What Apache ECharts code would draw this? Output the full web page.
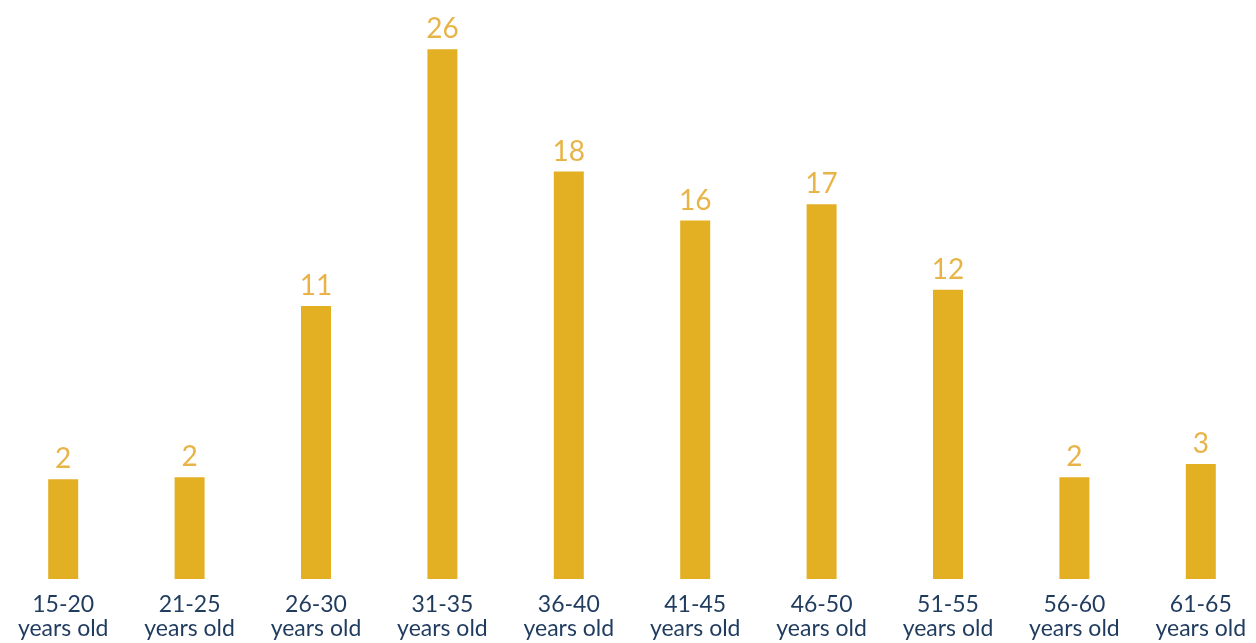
<!DOCTYPE html>
<html>
<head>
<meta charset="utf-8">
<script src="https://cdn.jsdelivr.net/npm/echarts@6/dist/echarts.min.js"></script>
<style>
  html, body { margin: 0; padding: 0; background: #fff; }
  #chart { width: 1256px; height: 643px; }
</style>
</head>
<body>
<div id="chart"></div>
<script>
// age groups
var ageGroups = ['15-20', '21-25', '26-30', '31-35', '36-40', '41-45', '46-50', '51-55', '56-60', '61-65'];
// numbers printed above the bars
var countLabels = ['2', '2', '11', '26', '18', '16', '17', '12', '2', '3'];
// bar heights as drawn (not proportional to the printed counts)
var barValues = [4.9, 5.0, 13.4, 26.0, 20.0, 17.6, 18.4, 14.2, 5.0, 5.65];

var chart = echarts.init(document.getElementById('chart'));
chart.setOption({
    animation: false,
    textStyle: { fontFamily: 'Lato' },
    grid: { left: 0, width: 1264, top: 29, bottom: 64, outerBoundsMode: 'none' },
    xAxis: {
        type: 'category',
        data: ageGroups,
        axisLine: { show: false },
        axisTick: { show: false },
        axisLabel: {
            interval: 0,
            margin: 14,
            color: '#1f3b5e',
            fontSize: 23,
            lineHeight: 24,
            fontFamily: 'Lato',
            formatter: function (v) { return v + '\nyears old'; }
        }
    },
    yAxis: {
        type: 'value',
        min: 0,
        max: 27,
        show: false
    },
    series: [{
        type: 'bar',
        data: barValues,
        barWidth: 30,
        itemStyle: { color: '#e3b023' },
        label: {
            show: true,
            position: 'top',
            distance: 6,
            color: '#e9b447',
            fontSize: 28,
            fontFamily: 'Lato',
            formatter: function (p) { return countLabels[p.dataIndex]; }
        }
    }]
});
</script>
</body>
</html>
